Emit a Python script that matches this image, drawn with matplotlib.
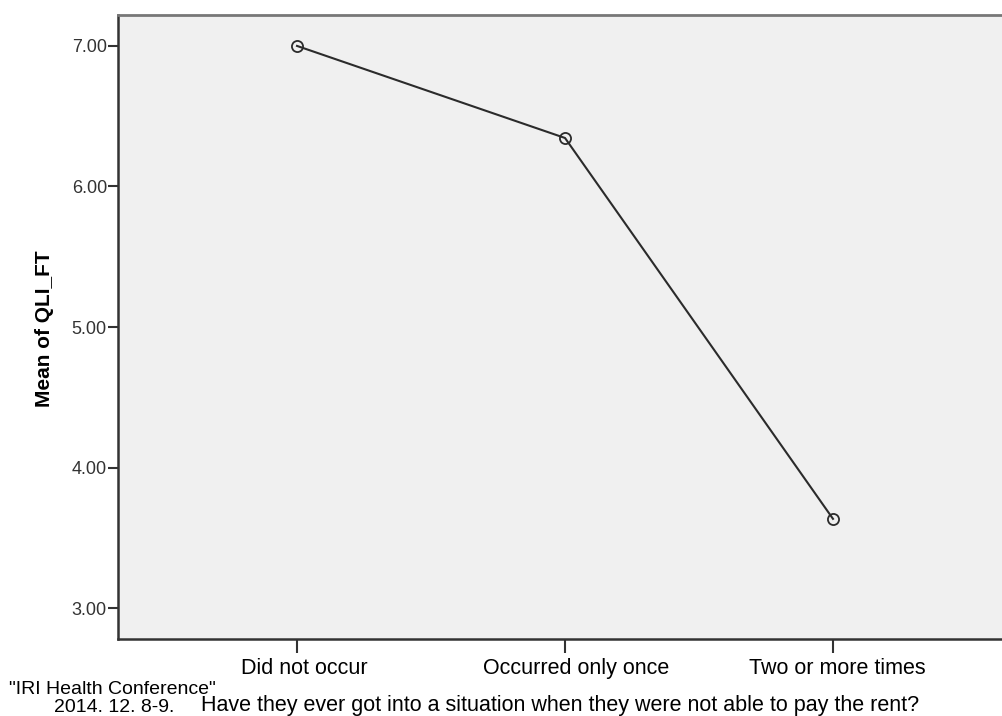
import matplotlib
matplotlib.use("Agg")
from matplotlib import pyplot as plt
from matplotlib.transforms import ScaledTranslation

# Data
categories = ["Did not occur", "Occurred only once", "Two or more times"]
means = [7.00, 6.345, 3.635]
y_ticks = [3.0, 4.0, 5.0, 6.0, 7.0]

plt.rcParams['font.family'] = ['Liberation Sans', 'DejaVu Sans']

fig = plt.figure(figsize=(10.03, 7.16), dpi=100)
ax = fig.add_axes([118 / 1003, 77 / 716, 894 / 1003, 624 / 716])
ax.set_facecolor("#f0f0f0")

x = list(range(len(categories)))
ax.plot(x, means, color="#2b2b2b", linewidth=1.5, marker="o", markersize=8,
        markerfacecolor="none", markeredgecolor="#2b2b2b", markeredgewidth=1.3)

ax.set_xlim(-0.668, 2.668)
ax.set_ylim(2.78, 7.22)
ax.set_xticks(x)
ax.set_xticklabels(categories, fontsize=15.5)
ax.set_yticks(y_ticks)
ax.set_yticklabels(["{:.2f}".format(v) for v in y_ticks], fontsize=13, color="#333333")
ax.tick_params(axis="y", length=7, width=1.5, color="#333333", pad=1)
ax.tick_params(axis="x", length=10, width=1.5, color="#333333", pad=4)

# the original labels sit slightly right of their ticks
shifts = [7, 11, 4]
for lab, dx in zip(ax.get_xticklabels(), shifts):
    lab.set_transform(lab.get_transform() + ScaledTranslation(dx / 100, 0, fig.dpi_scale_trans))

for side in ["left", "bottom"]:
    ax.spines[side].set_linewidth(1.8)
    ax.spines[side].set_color("#333333")
ax.spines["top"].set_linewidth(2)
ax.spines["top"].set_color("#777777")
ax.spines["right"].set_visible(False)

fig.text(45 / 1003, 1 - 329 / 716, "Mean of QLI_FT", rotation=90, fontsize=15,
         fontweight="bold", ha="center", va="center")

fig.text(9 / 1003, 1 - 690 / 716, '"IRI Health Conference"', fontsize=14,
         ha="left", va="center")
fig.text(54 / 1003, 1 - 708 / 716, "2014. 12. 8-9.", fontsize=14,
         ha="left", va="center")
fig.text(201 / 1003, 1 - 706 / 716,
         "Have they ever got into a situation when they were not able to pay the rent?",
         fontsize=15.5, ha="left", va="center")

fig.savefig("out.png", dpi=100)
